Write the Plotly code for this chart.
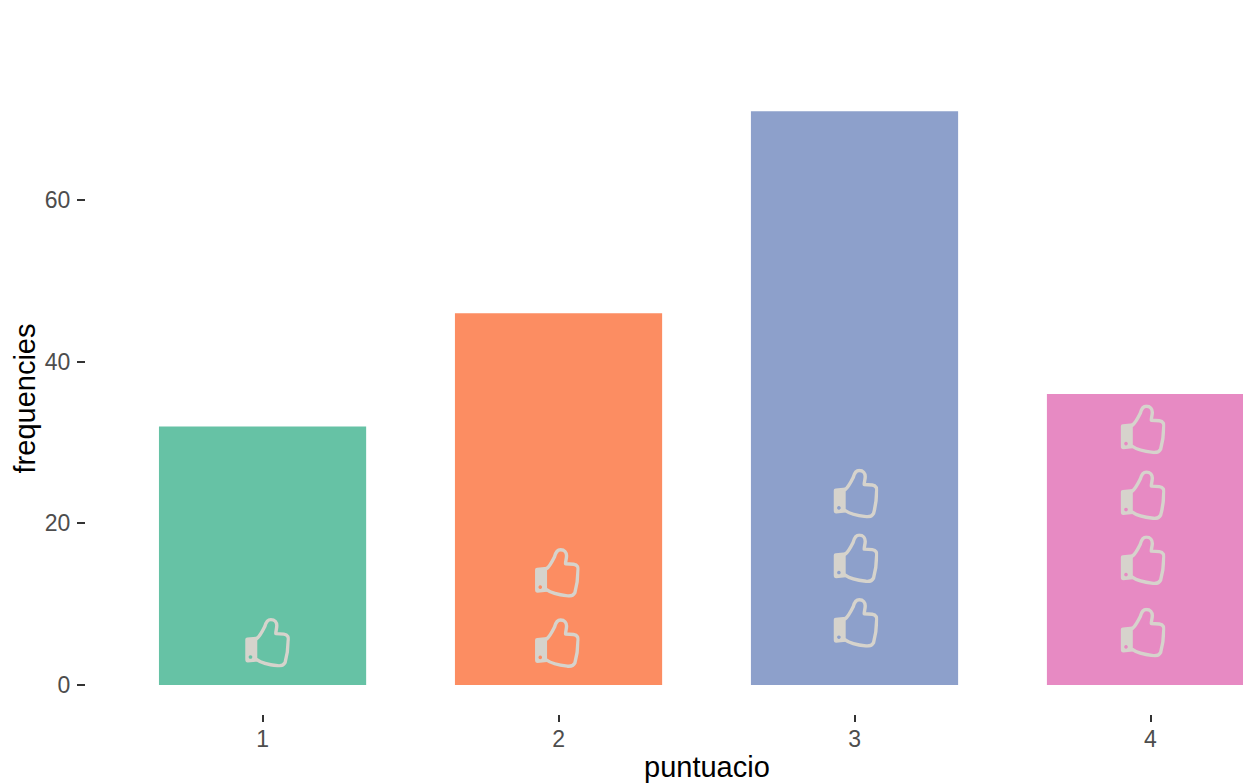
import base64
import plotly.graph_objects as go

puntuacio = [1, 2, 3, 4]
frequencies = [32, 46, 71, 36]
bar_colors = ["#66c2a5", "#fc8d62", "#8da0cb", "#e78ac3"]
x_ticks = [1, 2, 3, 4]
y_ticks = [0, 20, 40, 60]
icon_x = [1.016, 1.995, 1.995, 3.004, 3.004, 3.004, 3.974, 3.974, 3.974, 3.974]
icon_y = [5.25, 5.2, 13.9, 7.7, 15.7, 23.7, 6.5, 15.45, 23.5, 31.65]

thumb_svg = """<svg xmlns='http://www.w3.org/2000/svg' viewBox='0 0 45 50' width='450' height='500'>
<path fill='#d6d3cc' fill-rule='evenodd' d='M2.5 20 L12.5 19 L12.5 44 L3 45 Q0.5 45 0.5 42 L0.5 22 Q0.5 20 2.5 20 Z M5.7 37.6 a1.8 1.8 0 1 0 0.01 0 Z'/>
<path fill='none' stroke='#d6d3cc' stroke-width='3.4' stroke-linejoin='round' stroke-linecap='round'
 d='M12 21 C15 19 18 13 20 9 C21 5 23 2 26 2 C30 2 32 5 32 8 C32 11 31 13 31 16 L39 16.5 C43 17 44 20 43.4 23 C43.3 30 42.3 38 40.3 45 C39 47.5 36 48.5 33 48.2 C27 47.5 18 46.5 12 42'/>
</svg>"""
thumb_uri = "data:image/svg+xml;base64," + base64.b64encode(thumb_svg.encode()).decode()

fig = go.Figure(go.Bar(
    x=puntuacio, y=frequencies, width=0.7,
    marker=dict(color=bar_colors, line=dict(width=0)),
    showlegend=False,
))

for xv, yv in zip(icon_x, icon_y):
    fig.add_layout_image(dict(
        source=thumb_uri, xref="x", yref="y", x=xv, y=yv,
        sizex=45 / 295.7, sizey=50 / 8.083,
        xanchor="center", yanchor="middle", sizing="stretch", layer="above",
    ))

FONT = "Liberation Sans"
fig.update_layout(
    width=1243, height=784, autosize=False,
    margin=dict(l=86, r=0, t=83, b=70),
    plot_bgcolor="white", paper_bgcolor="white",
    bargap=0.3,
    font=dict(family=FONT),
    xaxis=dict(
        range=[0.4035, 4.3125], tickvals=x_ticks, ticks="outside", ticklen=7, tickwidth=1.6,
        tickcolor="#333333", showgrid=False, zeroline=False, showline=False,
        tickfont=dict(size=23, color="#4d4d4d", family=FONT),
        ticklabelstandoff=-3,
    ),
    yaxis=dict(
        range=[-3.588, 74.5], tickvals=y_ticks, ticks="outside", ticklen=8, tickwidth=1.6,
        tickcolor="#333333", showgrid=False, zeroline=False, showline=False,
        tickfont=dict(size=23, color="#4d4d4d", family=FONT),
        ticklabelstandoff=2,
        title=dict(text="frequencies", font=dict(size=29, color="#000000", family=FONT), standoff=0),
    ),
    annotations=[dict(
        text="puntuacio", xref="paper", yref="paper", x=(707 - 86) / 1157, y=0,
        xanchor="center", yanchor="middle", yshift=-53, showarrow=False,
        font=dict(size=29, color="#000000", family=FONT),
    )],
)
fig.write_html("out.html", config={"displayModeBar": False},
               post_script="document.body.style.margin='0';window.dispatchEvent(new Event('resize'));")
